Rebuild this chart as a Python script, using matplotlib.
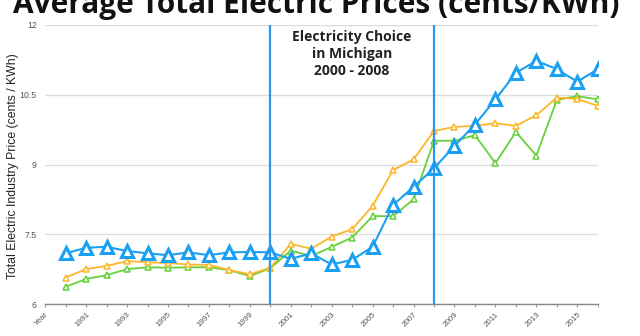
import matplotlib.pyplot as plt

# categories: first slot is the "Year" header, data from 1990 to 2016
categories = ['Year'] + [str(y) for y in range(1990, 2017)]

# prices in cents/KWh, 1990..2016
blue = [7.09, 7.21, 7.23, 7.14, 7.09, 7.05, 7.11, 7.05, 7.11, 7.12,
        7.11, 6.97, 7.09, 6.85, 6.95, 7.23, 8.13, 8.52, 8.92, 9.40,
        9.86, 10.40, 10.97, 11.23, 11.05, 10.78, 11.05]
orange = [6.57, 6.75, 6.82, 6.92, 6.90, 6.88, 6.85, 6.84, 6.73, 6.64,
          6.78, 7.29, 7.19, 7.45, 7.61, 8.11, 8.88, 9.11, 9.72, 9.81,
          9.83, 9.89, 9.83, 10.06, 10.44, 10.41, 10.26]
green = [6.37, 6.54, 6.62, 6.75, 6.79, 6.78, 6.79, 6.79, 6.73, 6.60,
         6.77, 7.15, 7.03, 7.23, 7.43, 7.89, 7.89, 8.25, 9.51, 9.51,
         9.63, 9.03, 9.70, 9.19, 10.39, 10.47, 10.40]

choice_years = ['2000', '2008']

fig = plt.figure(figsize=(6.4, 3.36), dpi=100)
ax = fig.add_axes([0.0706, 0.0952, 0.8634, 0.8304])

x = list(range(1, len(categories)))

ax.plot(x, green, color='#66d13a', lw=1.3, marker='^', ms=4.5,
        mfc='white', mec='#66d13a', mew=1.1, zorder=3)
ax.plot(x, orange, color='#fdb62a', lw=1.3, marker='^', ms=4.5,
        mfc='white', mec='#fdb62a', mew=1.1, zorder=3)
ax.plot(x, blue, color='#1a9ff2', lw=1.5, marker='^', ms=8,
        mfc='white', mec='#1a9ff2', mew=2.2, zorder=4)

for yr in choice_years:
    ax.axvline(categories.index(yr), color='#2a97ee', lw=1.6, zorder=5)

ax.set_xlim(0, len(categories) - 1)
ax.set_ylim(6, 12)
ax.set_yticks([6, 7.5, 9, 10.5, 12])
ax.set_yticklabels(['6', '7.5', '9', '10.5', '12'], family='Liberation Sans')
ax.yaxis.grid(True, color='#dddddd', lw=1)
ax.set_axisbelow(True)

ax.set_xticks(range(len(categories)))
ax.set_xticklabels([c if i % 2 == 0 else '' for i, c in enumerate(categories)],
                   rotation=45, ha='right', rotation_mode='anchor',
                   fontsize=5.8, color='#555555', family='Liberation Sans')
ax.tick_params(axis='x', length=2, color='#999999', pad=3)
ax.tick_params(axis='y', length=0, labelsize=6.3, labelcolor='#555555', pad=6)

for s in ['top', 'right', 'left']:
    ax.spines[s].set_visible(False)
ax.spines['bottom'].set_color('#888888')
ax.spines['bottom'].set_linewidth(1)

ax.set_ylabel('Total Electric Industry Price (cents / KWh)', fontsize=8.8,
              color='#222222', family='Liberation Sans')
ax.yaxis.set_label_coords(-0.048, 0.495)

ax.text(15, 11.38, 'Electricity Choice\nin Michigan\n2000 - 2008',
        ha='center', va='center', fontsize=10, fontweight='bold',
        color='#222222', linespacing=1.25, family='Open Sans')

fig.text(0.494, 1 - 13 / 336, 'Average Total Electric Prices (cents/KWh)',
         ha='center', va='baseline', fontsize=21.5, fontweight='bold',
         family='Open Sans', color='#111111')

fig.savefig('out.png', dpi=100)
